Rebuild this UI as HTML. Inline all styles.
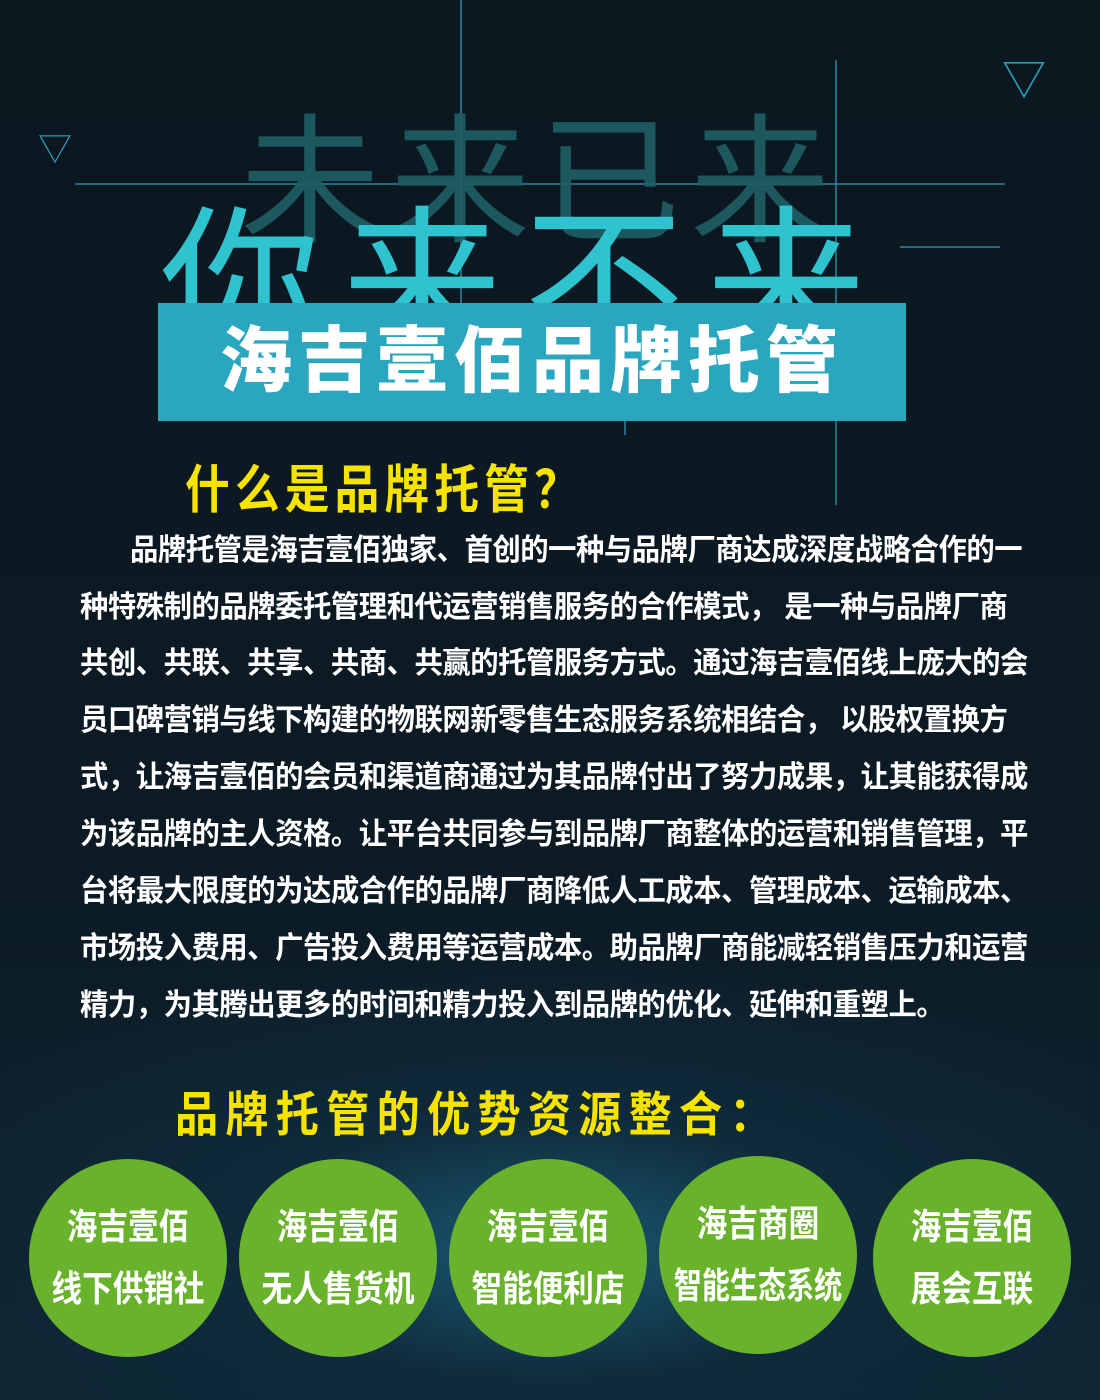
<!DOCTYPE html>
<html><head><meta charset="utf-8">
<style>
html,body{margin:0;padding:0}
body{width:1100px;height:1400px;overflow:hidden;position:relative;
background:radial-gradient(ellipse 700px 300px at 550px 1250px,#1a5a73 0%,#0f2a3a 45%,rgba(10,22,32,0) 100%),linear-gradient(#0c1820 0%,#0c1a24 60%,#0f2633 100%);
font-family:"Liberation Sans","Noto Sans CJK SC",sans-serif;}
.abs{position:absolute}
.big{position:absolute;font-weight:400;font-family:"Liberation Sans","Noto Sans CJK SC",sans-serif;white-space:nowrap}
.line{position:absolute;background:#2f8fa3;opacity:.7}
.p{position:absolute;left:80px;color:#fff;font-size:30px;font-weight:700;white-space:nowrap;letter-spacing:-0.5px;transform:scaleX(0.945);transform-origin:0 0}
.c{position:absolute;width:198px;height:198px;border-radius:50%;background:#69b22b;color:#fff;font-size:36px;font-weight:700;text-align:center;line-height:62px;display:flex;flex-direction:column;justify-content:center;align-items:center}
.c div{white-space:nowrap;transform:scaleX(0.85)}
</style></head><body>
<div class="line" style="left:75px;top:183px;width:930px;height:2px"></div>
<div class="line" style="left:460px;top:0;width:2px;height:330px"></div>
<div class="line" style="left:835px;top:60px;width:2px;height:445px"></div>
<div class="line" style="left:624px;top:420px;width:2px;height:15px"></div>
<div class="line" style="left:900px;top:246px;width:100px;height:2px"></div>
<div class="abs" style="left:38px;top:122px;color:#2a9ab0;font-size:34px">▽</div>
<div class="abs" style="left:1002px;top:44px;color:#2a9ab0;font-size:44px">▽</div>
<div class="big" style="left:240px;top:70px;font-size:140px;color:#1f5f66;letter-spacing:10px;opacity:.9">未来已来</div>
<div class="big" style="left:160px;top:155px;font-size:160px;color:#2fc2cf;letter-spacing:22px">你来不来</div>
<div class="abs" style="left:158px;top:303px;width:748px;height:118px;background:#2aa6bf;color:#fff;font-size:72px;font-weight:900;line-height:118px;text-align:center;letter-spacing:6px">海吉壹佰品牌托管</div>
<div class="abs" style="left:185px;top:448px;color:#f7e300;font-size:52px;font-weight:700;letter-spacing:6px;white-space:nowrap;transform:scaleX(0.86);transform-origin:0 0">什么是品牌托管？</div>
<div class="p" style="top:525px;left:130px">品牌托管是海吉壹佰独家、首创的一种与品牌厂商达成深度战略合作的一</div>
<div class="p" style="top:582px">种特殊制的品牌委托管理和代运营销售服务的合作模式， 是一种与品牌厂商</div>
<div class="p" style="top:638px">共创、共联、共享、共商、共赢的托管服务方式。通过海吉壹佰线上庞大的会</div>
<div class="p" style="top:695px">员口碑营销与线下构建的物联网新零售生态服务系统相结合， 以股权置换方</div>
<div class="p" style="top:752px">式，让海吉壹佰的会员和渠道商通过为其品牌付出了努力成果，让其能获得成</div>
<div class="p" style="top:809px">为该品牌的主人资格。让平台共同参与到品牌厂商整体的运营和销售管理，平</div>
<div class="p" style="top:866px">台将最大限度的为达成合作的品牌厂商降低人工成本、管理成本、运输成本、</div>
<div class="p" style="top:923px">市场投入费用、广告投入费用等运营成本。助品牌厂商能减轻销售压力和运营</div>
<div class="p" style="top:980px">精力，为其腾出更多的时间和精力投入到品牌的优化、延伸和重塑上。</div>
<div class="abs" style="left:175px;top:1075px;color:#f7e300;font-size:48px;font-weight:700;letter-spacing:8px;white-space:nowrap;transform:scaleX(0.9);transform-origin:0 0">品牌托管的优势资源整合：</div>
<div class="c" style="left:29px;top:1159px"><div>海吉壹佰</div><div>线下供销社</div></div>
<div class="c" style="left:239px;top:1159px"><div>海吉壹佰</div><div>无人售货机</div></div>
<div class="c" style="left:449px;top:1159px"><div>海吉壹佰</div><div>智能便利店</div></div>
<div class="c" style="left:659px;top:1156px"><div>海吉商圈</div><div style="transform:scaleX(0.78)">智能生态系统</div></div>
<div class="c" style="left:873px;top:1159px"><div>海吉壹佰</div><div>展会互联</div></div>
</body></html>
